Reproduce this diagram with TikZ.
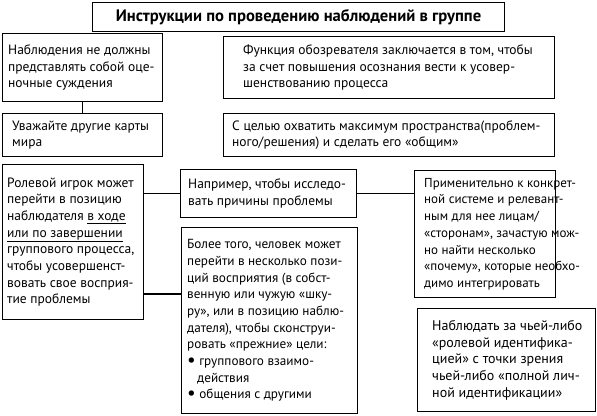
\documentclass[tikz,border=0pt]{standalone}
\usepackage{fontspec}
\setmainfont{PT Sans}
\newcommand{\bigbul}{\raisebox{-0.6pt}{\scalebox{1.45}{•}}}
\begin{document}
\begin{tikzpicture}[x=1pt,y=-1pt,
  box/.style={draw,line width=1.1pt,anchor=north west,inner sep=0pt},
  txt/.style={anchor=west,align=left,inner sep=0pt,font=\fontsize{13.5}{16.7}\selectfont},
  conn/.style={line width=1.8pt}]
\useasboundingbox (0,0) rectangle (597,415);
\node[box,minimum width=412pt,minimum height=29pt,
  font=\fontsize{16.6}{18}\selectfont\bfseries] (T) at (92,2) {Инструкции по проведению наблюдений в группе};
\node[box,minimum width=160pt,minimum height=68pt] (A) at (2,33) {};
\node[txt] (At) at ([xshift=6pt]A.west) {Наблюдения не должны\\представлять собой оце-\\ночные суждения};
\node[box,minimum width=160pt,minimum height=43pt] (B) at (2,113) {};
\node[txt] (Bt) at ([xshift=10pt]B.west) {Уважайте другие карты\\мира};
\node[box,minimum width=331pt,minimum height=62pt] (C) at (223,36) {};
\node[txt] (Ct) at ([xshift=20pt]C.west) {Функция обозревателя заключается в том, чтобы\\за счет повышения осознания вести к усовер-\\шенствованию процесса};
\node[box,minimum width=331pt,minimum height=43pt] (D) at (223,113) {};
\node[txt] (Dt) at ([xshift=9pt]D.west) {С целью охватить максимум пространства(проблем-\\ного/решения) и сделать его «общим»};
\node[box,minimum width=141pt,minimum height=155pt] (E) at (2,164) {};
\node[txt] (Et) at ([xshift=5pt]E.west) {Ролевой игрок может\\перейти в позицию\\наблюдателя \underline{в ходе}\\\underline{или по завершении}\\группового процесса,\\чтобы усовершенст-\\вовать свое восприя-\\тие проблемы};
\node[box,minimum width=176pt,minimum height=48pt] (F) at (180,169) {};
\node[txt] (Ft) at ([xshift=8pt]F.west) {Например, чтобы исследо-\\вать причины проблемы};
\node[box,minimum width=176pt,minimum height=186pt] (G) at (181,227) {};
\node[txt,font=\fontsize{13.2}{16.7}\selectfont] (Gt) at ([xshift=6pt]G.west) {Более того, человек может\\перейти в несколько пози-\\ций восприятия (в собст-\\венную или чужую «шку-\\ру», или в позицию наблю-\\дателя), чтобы сконструи-\\ровать «прежние» цели:\\\bigbul\ группового взаимо-\\\hphantom{\bigbul}\hspace{0.1em}действия\\\bigbul\ общения с другими};
\node[box,minimum width=141pt,minimum height=127pt] (H) at (414,170) {};
\node[txt,font=\fontsize{13}{16.7}\selectfont] (Ht) at ([xshift=10pt]H.west) {Применительно к конкрет-\\ной системе и релевант-\\ным для нее лицам/\\«сторонам», зачастую мож-\\но найти несколько\\«почему», которые необхо-\\димо интегрировать};
\node[box,minimum width=178pt,minimum height=103pt] (I) at (417,308) {};
\node[txt,font=\fontsize{14}{16.7}\selectfont] (It) at ([xshift=15pt]I.west) {Наблюдать за чьей-либо\\«ролевой идентифика-\\цией» с точки зрения\\чьей-либо «полной лич-\\ной идентификации»};
\coordinate (eg) at (150,294);
\draw[conn] (A.south) -- (B.north);
\draw[conn] (F.west) -- (F.west -| E.east);
\draw[conn] (eg -| E.east) -- (eg -| G.west);
\draw[conn] (F.east) -- (F.east -| H.west);
\end{tikzpicture}
\end{document}
